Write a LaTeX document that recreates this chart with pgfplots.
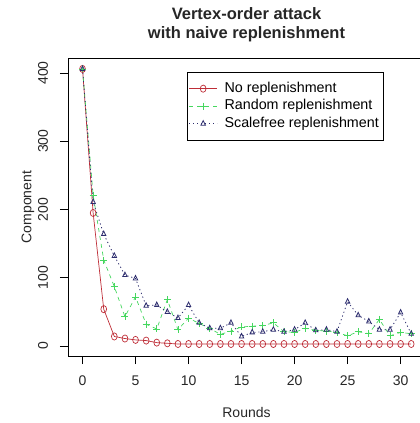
\documentclass[border=0pt]{standalone}
\usepackage{fontspec}
\setmainfont{Liberation Sans}
\usepackage{pgfplots}
\pgfplotsset{compat=1.18}

\definecolor{noRep}{RGB}{190,45,55}
\definecolor{randRep}{RGB}{70,215,95}
\definecolor{sfRep}{RGB}{45,45,110}

\begin{document}
\begin{tikzpicture}
\begin{axis}[
    scale only axis,
    width=357pt, height=298pt,
    xmin=-1.37, xmax=32.3,
    ymin=-14.6, ymax=422,
    xtick={0,5,...,30},
    ytick={0,100,...,400},
    tick pos=left,
    tick align=outside,
    major tick length=8pt,
    tick style={black, line width=0.6pt},
    axis line style={black, line width=0.8pt},
    /pgf/number format/assume math mode=true,
    ticklabel style={font=\fontsize{14pt}{16pt}\selectfont, text=black!85},
    xticklabel style={anchor=center, yshift=-17pt},
    yticklabel style={xshift=-17pt, rotate=90, anchor=center},
    label style={font=\fontsize{14pt}{16pt}\selectfont, text=black!85},
    xlabel={Rounds},
    ylabel={Component},
    xlabel style={at={(axis description cs:0.5,-0.188)}, anchor=center},
    ylabel style={at={(axis description cs:-0.112,0.5)}, anchor=center},
    title={Vertex-order attack\\with naive replenishment},
    title style={align=center, font=\bfseries\fontsize{16.5pt}{19pt}\selectfont,
        text=black!85, at={(axis description cs:0.5,1)}, anchor=south,
        yshift=10pt, inner sep=0pt},
    legend style={at={(axis description cs:0.333,0.953)}, anchor=north west,
        draw=black, line width=0.8pt, inner xsep=1.5pt, inner ysep=7.5pt,
        font=\fontsize{14.3pt}{16pt}\selectfont, row sep=0pt,
        nodes={text height=10.5pt, text depth=3pt, inner ysep=2pt, inner xsep=3pt},
        /tikz/every odd column/.append style={column sep=4pt}},
    legend cell align=left,
    legend image code/.code={\draw[mark repeat=2,mark phase=2,#1]
        plot coordinates {(0pt,0pt)(14pt,0pt)(28pt,0pt)};},
]
\addplot[noRep, line width=0.7pt, mark=o, mark size=3.6pt,
    mark options={solid, xscale=0.8, fill=white}] coordinates {
    (0,406)(1,195)(2,54)(3,14)(4,11)(5,9)(6,8)(7,5)(8,4)(9,3)
    (10,3)(11,3)(12,3)(13,3)(14,3)(15,3)(16,3)(17,3)(18,3)(19,3)
    (20,3)(21,3)(22,3)(23,3)(24,3)(25,3)(26,3)(27,3)(28,3)(29,3)
    (30,3)(31,3)
};
\addlegendentry{No replenishment}
\addplot[randRep, line width=0.7pt, dash pattern=on 4pt off 4pt, mark=+, mark size=3.5pt,
    mark options={solid}] coordinates {
    (0,406)(1,221)(2,126)(3,87)(4,43)(5,72)(6,32)(7,25)(8,68)(9,24)
    (10,41)(11,33)(12,26)(13,17)(14,22)(15,28)(16,29)(17,30)(18,34)(19,21)
    (20,20)(21,26)(22,23)(23,22)(24,20)(25,15)(26,21)(27,18)(28,39)(29,15)
    (30,20)(31,18)
};
\addlegendentry{Random replenishment}
\addplot[sfRep, line width=0.8pt, dash pattern=on 1.2pt off 2.8pt, mark=triangle, mark size=3pt,
    mark options={solid, xscale=0.85}] coordinates {
    (0,406)(1,211)(2,164)(3,132)(4,104)(5,99)(6,59)(7,60)(8,50)(9,41)
    (10,60)(11,34)(12,26)(13,26)(14,34)(15,14)(16,20)(17,21)(18,24)(19,21)
    (20,24)(21,34)(22,23)(23,24)(24,21)(25,65)(26,45)(27,36)(28,24)(29,24)
    (30,49)(31,18)
};
\addlegendentry{Scalefree replenishment}
\end{axis}
\pgfresetboundingbox
\path[use as bounding box] ([xshift=-68pt,yshift=-67pt]current axis.south west)
    rectangle ([xshift=352pt,yshift=356pt]current axis.south west);
\end{tikzpicture}
\end{document}
